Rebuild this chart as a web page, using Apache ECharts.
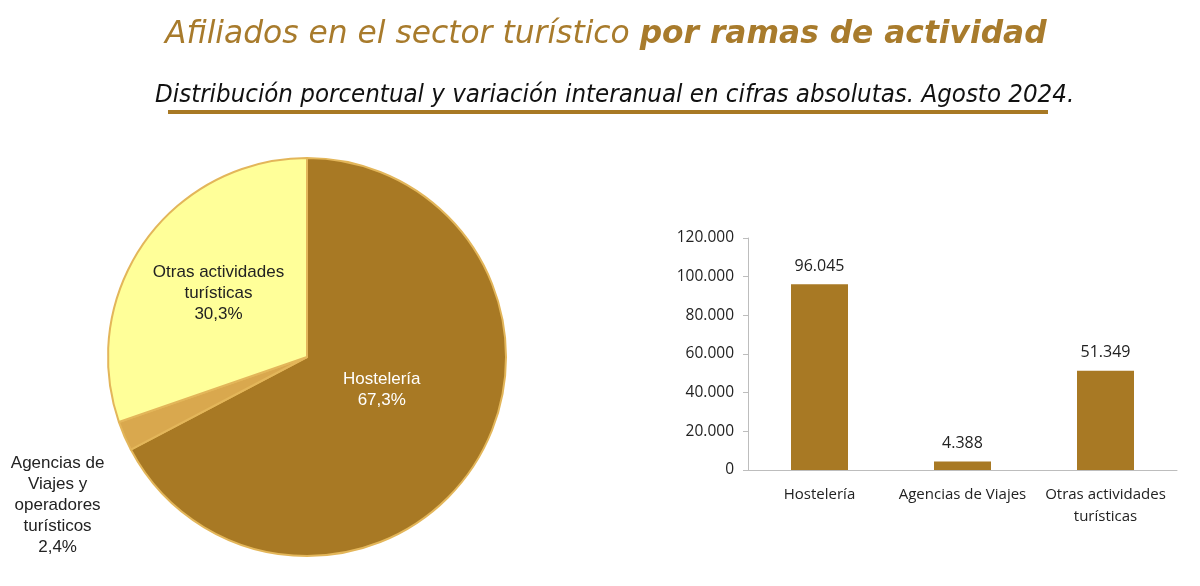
<!DOCTYPE html>
<html>
<head>
<meta charset="utf-8">
<script src="https://cdn.jsdelivr.net/npm/echarts@6/dist/echarts.min.js"></script>
<style>
html,body{margin:0;padding:0;background:#fff;}
#chart{width:1200px;height:586px;}
</style>
</head>
<body>
<div id="chart"></div>
<script>
// ---- data ----
const pieNames = ['Hostelería', 'Agencias de\nViajes y\noperadores\nturísticos', 'Otras actividades\nturísticas'];
const pieValues = [67.3, 2.4, 30.3];
const pieColors = ['#A87924', '#D9A84E', '#FFFF99'];

const barCategories = ['Hostelería', 'Agencias de Viajes', 'Otras actividades\nturísticas'];
const barValues = [96045, 4388, 51349];

const yMin = 0, yMax = 120000, yInterval = 20000;

function fmtThousands(v) {
  return String(Math.round(v)).replace(/\B(?=(\d{3})+(?!\d))/g, '.');
}
function fmtPct(v) {
  return v.toFixed(1).replace('.', ',') + '%';
}

const chart = echarts.init(document.getElementById('chart'), null, {renderer: 'canvas'});

const pieData = pieNames.map((n, i) => {
  const item = {name: n, value: pieValues[i], itemStyle: {color: pieColors[i]}};
  if (i === 0) {
    item.label = {position: 'inside', color: '#ffffff', offset: [-13, -20]};
  } else if (i === 1) {
    item.label = {position: 'outside', color: '#222', offset: [-18, 63]};
    item.labelLine = {show: false};
  } else {
    item.label = {position: 'inside', color: '#222', offset: [-5, -4]};
  }
  return item;
});

const option = {
  backgroundColor: '#ffffff',
  animation: false,
  title: [
    {
      text: '{a|Afiliados en el sector turístico }{b|por ramas de actividad}',
      left: 160, top: 14,
      textStyle: {
        fontWeight: 'normal',
        rich: {
          a: {fontFamily: 'DejaVu Sans', fontStyle: 'italic', fontWeight: 'normal', fontSize: 31.3, color: '#A87B2C'},
          b: {fontFamily: 'DejaVu Sans', fontStyle: 'italic', fontWeight: 'bold', fontSize: 31.3, color: '#A87B2C'}
        }
      }
    },
    {
      text: 'Distribución porcentual y variación interanual en cifras absolutas. Agosto 2024.',
      left: 150, top: 77,
      textStyle: {fontFamily: 'DejaVu Sans Condensed', fontStyle: 'italic', fontWeight: 'normal', fontSize: 25.6, color: '#111'}
    }
  ],
  graphic: [
    {type: 'rect', shape: {x: 168, y: 110, width: 880, height: 4}, style: {fill: '#A87924'}}
  ],
  grid: {left: 748, right: 23, top: 238, bottom: 116},
  xAxis: {
    type: 'category',
    data: barCategories,
    axisLine: {show: true, lineStyle: {color: '#bdbdbd', width: 1}},
    axisTick: {show: false},
    axisLabel: {fontFamily: 'Open Sans', fontSize: 15, color: '#222', margin: 14, lineHeight: 22, interval: 0}
  },
  yAxis: {
    type: 'value',
    min: yMin, max: yMax, interval: yInterval,
    axisLine: {show: true, lineStyle: {color: '#bdbdbd', width: 1}},
    axisTick: {show: true, length: 5, lineStyle: {color: '#bdbdbd'}},
    splitLine: {show: false},
    axisLabel: {fontFamily: 'Open Sans', fontSize: 15.5, color: '#222', margin: 14, formatter: fmtThousands}
  },
  series: [
    {
      type: 'pie',
      center: [307, 357],
      radius: 199,
      startAngle: 90,
      clockwise: true,
      avoidLabelOverlap: false,
      itemStyle: {borderColor: '#E3B65A', borderWidth: 2},
      label: {
        show: true,
        fontFamily: 'Liberation Sans',
        fontSize: 17,
        lineHeight: 21,
        formatter: p => p.name + '\n' + fmtPct(p.value)
      },
      labelLayout: p => (p.dataIndex === 1 ? {align: 'center'} : {}),
      labelLine: {show: false},
      emphasis: {disabled: true},
      data: pieData
    },
    {
      type: 'bar',
      data: barValues,
      barWidth: 57,
      itemStyle: {color: '#A87924'},
      label: {
        show: true, position: 'top', distance: 10,
        fontFamily: 'Open Sans', fontSize: 16, color: '#222',
        formatter: p => fmtThousands(p.value)
      }
    }
  ]
};
chart.setOption(option);
</script>
</body>
</html>
